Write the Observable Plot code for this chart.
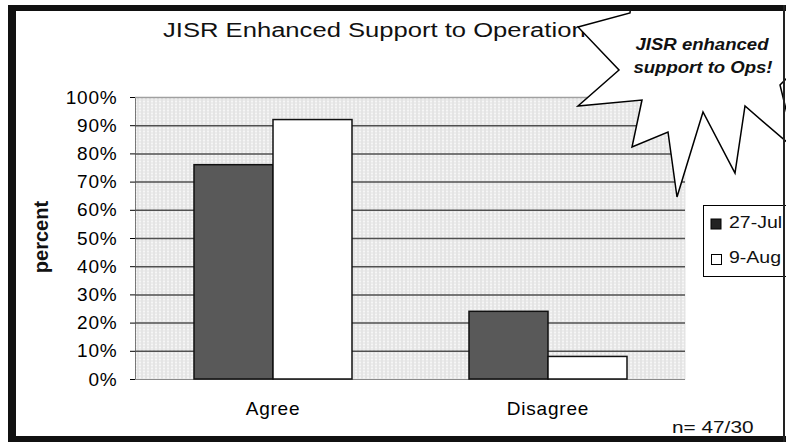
<!DOCTYPE html>
<html><head><meta charset="utf-8">
<script src="https://cdn.jsdelivr.net/npm/d3@7"></script>
<script src="https://cdn.jsdelivr.net/npm/@observablehq/plot@0.6"></script>
<style>
html,body{margin:0;padding:0;background:#fff;}
#wrap{position:relative;width:788px;height:442px;overflow:hidden;font-family:"Liberation Sans",Arial,sans-serif;}
#wrap svg{position:absolute;left:0;top:0;}
</style></head><body><div id="wrap"></div>
<script>
// ---- data ----
const categories = ["Agree", "Disagree"];
const series = ["27-Jul", "9-Aug"];
const jul27 = [76, 24];
const aug9 = [92, 8];
const yTicks = [0, 10, 20, 30, 40, 50, 60, 70, 80, 90, 100];
const gridValues = [10, 20, 30, 40, 50, 60, 70, 80, 90];
const titleText = "JISR Enhanced Support to Operations";
const calloutLines = ["JISR enhanced", "support to Ops!"];
const noteText = "n= 47/30";
const yLabel = "percent";

const rows = [];
categories.forEach((c, i) => {
  rows.push({category: c, series: series[0], value: jul27[i]});
  rows.push({category: c, series: series[1], value: aug9[i]});
});

const chart = Plot.plot({
  width: 788, height: 442,
  marginLeft: 134, marginRight: 103, marginTop: 97, marginBottom: 63,
  style: {fontFamily: "'Liberation Sans', Arial, sans-serif", fontSize: "19px", background: "transparent", color: "#000"},
  fx: {domain: categories, padding: 0, axis: "bottom", label: null, tickSize: 0, tickPadding: 22},
  x: {domain: series, paddingInner: 0, paddingOuter: 0.7327, axis: null},
  y: {domain: [0, 100], ticks: yTicks, tickFormat: d => d + "%", tickSize: 5, tickPadding: 13, label: null, line: true},
  color: {domain: series, range: ["#595959", "#ffffff"]},
  marks: [
    Plot.frame({fill: "#ececec", stroke: "none"}),
    Plot.ruleY([0], {stroke: "#8a8a8a"}),
    Plot.ruleY(gridValues, {stroke: "#505050", strokeWidth: 1.5}),
    Plot.ruleY([100], {stroke: "#a0a0a0", strokeWidth: 1.4}),
    Plot.barY(rows, {fx: "category", x: "series", y: "value", fill: "series", stroke: "#111", strokeWidth: 1.5})
  ]
});

const svgSel = d3.select(chart);
svgSel.insert("defs", ":first-child").html(
  '<pattern id="bgdots" patternUnits="userSpaceOnUse" width="4" height="3">' +
  '<rect width="4" height="3" fill="#f6f6f6"/>' +
  '<rect width="1" height="3" fill="#d4d4d4"/>' +
  '<rect width="4" height="1" fill="#e2e2e2"/></pattern>');
svgSel.selectAll("g[aria-label=frame] rect").attr("fill", "url(#bgdots)");
svgSel.selectAll("text").attr("letter-spacing", "0.8px");

document.getElementById("wrap").appendChild(chart);

// ---- overlay: title, callout, legend, note, frame ----
const ns = "http://www.w3.org/2000/svg";
const ov = d3.select("#wrap").append("svg")
  .attr("xmlns", ns).attr("width", 788).attr("height", 442)
  .style("pointer-events", "none")
  .attr("font-family", "'Liberation Sans', Arial, sans-serif");

ov.append("text").attr("transform", "translate(163,37) scale(1.28,1)")
  .attr("font-size", 20).attr("fill", "#111").text(titleText);

const burst = [[578,27],[630,13],[632,-10],[800,-10],[805,60],[780,85],[796,150],[745,106],[735,173],[703,112],[677,197],[668,132],[632,147],[642,100],[578,106],[619,70]];
ov.append("polygon").attr("points", burst.map(p => p.join(",")).join(" "))
  .attr("fill", "#fff").attr("stroke", "#000").attr("stroke-width", 1.5).attr("stroke-linejoin", "miter");

const cg = ov.append("g").attr("font-weight", "bold").attr("font-style", "italic")
  .attr("font-size", 16).attr("text-anchor", "middle").attr("fill", "#111");
cg.append("text").attr("transform", "translate(702,50) scale(1.16,1)").text(calloutLines[0]);
cg.append("text").attr("transform", "translate(703,73) scale(1.16,1)").text(calloutLines[1]);

// legend
const lg = ov.append("g");
lg.append("rect").attr("x", 703.5).attr("y", 205.5).attr("width", 120).attr("height", 71)
  .attr("fill", "#fff").attr("stroke", "#000");
lg.append("rect").attr("x", 711).attr("y", 219).attr("width", 10).attr("height", 10)
  .attr("fill", "#222").attr("stroke", "#000");
lg.append("rect").attr("x", 711.5).attr("y", 254.5).attr("width", 10).attr("height", 10)
  .attr("fill", "#fff").attr("stroke", "#000");
lg.append("text").attr("transform", "translate(729,228) scale(1.22,1)").attr("font-size", 16).attr("fill", "#111").text(series[0]);
lg.append("text").attr("transform", "translate(729,263) scale(1.22,1)").attr("font-size", 16).attr("fill", "#111").text(series[1]);

ov.append("text").attr("transform", "translate(672,433) scale(1.3,1)").attr("font-size", 16).attr("fill", "#111").text(noteText);

ov.append("text").attr("transform", "translate(48,237) rotate(-90)").attr("text-anchor", "middle")
  .attr("font-size", 20).attr("font-weight", "bold").attr("fill", "#111").text(yLabel);

// mask area outside the outer frame
ov.append("rect").attr("x", 0).attr("y", 0).attr("width", 788).attr("height", 5).attr("fill", "#fff");
ov.append("rect").attr("x", 786).attr("y", 0).attr("width", 2).attr("height", 442).attr("fill", "#fff");

// outer frame
ov.append("rect").attr("x", 8).attr("y", 5).attr("width", 8).attr("height", 437).attr("fill", "#111");
ov.append("rect").attr("x", 8).attr("y", 5).attr("width", 778).attr("height", 6).attr("fill", "#111");
ov.append("rect").attr("x", 8).attr("y", 436).attr("width", 778).attr("height", 6).attr("fill", "#111");
ov.append("rect").attr("x", 783).attr("y", 5).attr("width", 2).attr("height", 437).attr("fill", "#222");
</script></body></html>
